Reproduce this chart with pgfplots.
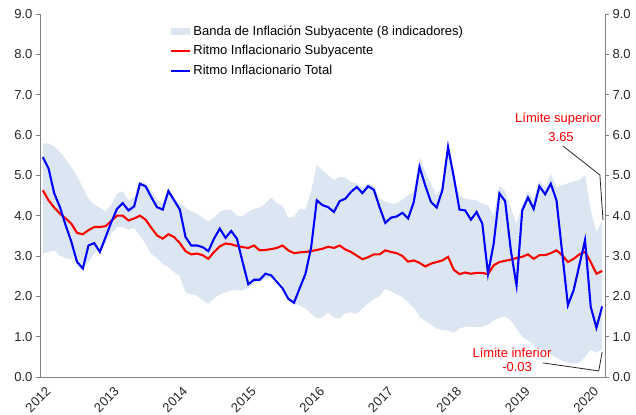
\documentclass[border=0pt]{standalone}
\usepackage{fontspec}
\setmainfont{Liberation Sans}
\usepackage{pgfplots}
\usepackage{pgfplotstable}
\pgfplotsset{compat=1.18}
\usepgfplotslibrary{fillbetween}

\definecolor{bandc}{HTML}{DCE6F2}
\definecolor{axgray}{HTML}{808080}
\newcommand{\chartfont}{\fontsize{13}{15}\selectfont}

% m = month index from Jan 2012; lo/hi = band of 8 core indicators
\pgfplotstableread{
m lo hi core total
0 3.06 5.79 4.63 5.45
1 3.10 5.79 4.38 5.17
2 3.14 5.72 4.20 4.55
3 3.00 5.58 4.05 4.21
4 2.95 5.40 3.93 3.76
5 2.92 5.20 3.80 3.35
6 2.85 4.98 3.57 2.85
7 2.66 4.70 3.54 2.69
8 2.85 4.42 3.64 3.26
9 3.06 4.28 3.72 3.32
10 3.20 4.20 3.72 3.10
11 3.35 4.10 3.74 3.47
12 3.55 4.28 3.87 3.84
13 3.72 4.55 4.00 4.17
14 3.72 4.60 4.00 4.31
15 3.65 4.38 3.88 4.13
16 3.70 4.46 3.93 4.23
17 3.50 4.85 4.00 4.79
18 3.30 4.80 3.90 4.73
19 3.05 4.60 3.70 4.46
20 2.95 4.40 3.51 4.21
21 2.80 4.30 3.43 4.15
22 2.72 4.65 3.54 4.61
23 2.60 4.45 3.47 4.38
24 2.50 4.30 3.32 4.15
25 2.10 4.20 3.12 3.47
26 2.05 4.10 3.04 3.26
27 2.02 4.05 3.06 3.26
28 1.90 3.95 3.02 3.22
29 1.82 3.85 2.93 3.12
30 1.95 3.95 3.10 3.43
31 2.05 4.10 3.24 3.68
32 2.10 4.15 3.31 3.45
33 2.15 4.15 3.29 3.62
34 2.15 4.00 3.25 3.43
35 2.15 3.98 3.22 2.85
36 2.20 4.10 3.20 2.30
37 2.33 4.17 3.26 2.41
38 2.38 4.20 3.14 2.41
39 2.42 4.30 3.15 2.56
40 2.48 4.45 3.17 2.52
41 2.45 4.30 3.20 2.36
42 2.30 4.25 3.26 2.20
43 2.00 3.95 3.14 1.94
44 1.82 3.97 3.07 1.84
45 1.78 4.17 3.09 2.20
46 1.70 4.15 3.10 2.55
47 1.57 4.60 3.12 3.20
48 1.45 5.25 3.15 4.38
49 1.48 5.12 3.18 4.26
50 1.60 5.00 3.23 4.21
51 1.48 4.88 3.20 4.09
52 1.45 4.96 3.26 4.36
53 1.58 4.95 3.16 4.42
54 1.60 4.83 3.10 4.59
55 1.57 4.80 3.01 4.71
56 1.70 4.70 2.92 4.56
57 1.82 4.80 2.97 4.73
58 1.93 4.75 3.04 4.64
59 2.00 4.42 3.04 4.21
60 2.19 4.35 3.14 3.82
61 2.12 4.30 3.10 3.95
62 2.05 4.30 3.07 3.98
63 1.98 4.40 3.00 4.07
64 1.85 4.50 2.86 3.93
65 1.72 4.60 2.89 4.34
66 1.50 5.45 2.83 5.21
67 1.38 5.10 2.74 4.75
68 1.30 4.79 2.81 4.34
69 1.20 4.50 2.85 4.20
70 1.16 4.75 2.89 4.63
71 1.15 5.83 2.98 5.70
72 1.10 5.00 2.66 4.96
73 1.20 4.50 2.55 4.15
74 1.25 4.42 2.59 4.13
75 1.24 4.40 2.56 3.90
76 1.24 4.38 2.58 4.09
77 1.24 4.30 2.58 3.80
78 1.30 4.26 2.55 2.56
79 1.40 4.00 2.77 3.31
80 1.47 4.75 2.85 4.55
81 1.50 4.60 2.88 4.36
82 1.40 4.20 2.91 3.14
83 1.20 3.80 2.95 2.27
84 1.00 4.25 2.98 4.13
85 0.90 4.63 3.04 4.45
86 0.80 4.40 2.93 4.17
87 0.72 4.88 3.02 4.73
88 0.65 4.70 3.02 4.53
89 0.55 5.04 3.07 4.79
90 0.48 4.71 3.14 4.38
91 0.40 4.75 3.02 3.08
92 0.36 4.80 2.85 1.78
93 0.33 4.85 2.93 2.15
94 0.35 4.88 3.04 2.77
95 0.50 5.00 3.10 3.39
96 0.68 4.13 2.85 1.74
97 0.60 3.59 2.56 1.22
98 0.70 3.88 2.63 1.75
}\datatab

\pgfplotsset{
  ratebase/.style={
    scale only axis, width=565pt, height=363pt,
    xmin=0, xmax=99, ymin=0, ymax=9,
    axis line style={axgray, line width=0.9pt},
    ytick={0,1,...,9},
    tick align=outside, major tick length=4pt,
    ytick style={axgray, line width=0.9pt},
    tick label style={font=\chartfont, text=black!85},
    yticklabel style={/pgf/number format/.cd, fixed, fixed zerofill, precision=1, assume math mode=true},
  },
  lineleg/.style={legend image code/.code={\draw[##1] (0pt,0pt) -- (19pt,0pt);}},
  bandleg/.style={legend image code/.code={\fill[bandc] (0pt,-3.5pt) rectangle (19pt,3.5pt);}},
}

\begin{document}
\begin{tikzpicture}[font=\chartfont]
\begin{axis}[ratebase,
  axis x line*=bottom, axis y line*=left,
  xtick={0,12,24,36,48,60,72,84,96},
  xticklabels={2012,2013,2014,2015,2016,2017,2018,2019,2020},
  xtick style={draw=none},
  xticklabel style={rotate=45, anchor=north east, inner sep=1pt, xshift=1pt, yshift=-6pt},
  legend style={at={(axis cs:22.8,8.77)}, anchor=north west, draw=none, fill=none,
    font=\chartfont, row sep=5pt, inner sep=0pt, nodes={inner sep=2pt}},
  legend cell align=left,
]
\addplot[name path=hi, draw=none, forget plot] table[x expr=\thisrow{m}+0.5, y=hi]{\datatab};
\addplot[name path=lo, draw=none, forget plot] table[x expr=\thisrow{m}+0.5, y=lo]{\datatab};
\addplot[fill=bandc, draw=none, bandleg] fill between[of=hi and lo];
\addlegendentry{Banda de Inflación Subyacente (8 indicadores)}
\addplot[red, line width=2.1pt, lineleg] table[x expr=\thisrow{m}+0.5, y=core]{\datatab};
\addlegendentry{Ritmo Inflacionario Subyacente}
\addplot[blue, line width=2.1pt, lineleg] table[x expr=\thisrow{m}+0.5, y=total]{\datatab};
\addlegendentry{Ritmo Inflacionario Total}

\draw[black!85, line width=0.8pt] (axis cs:91.6,5.73) -- (axis cs:98.1,5.01) -- (axis cs:98.65,3.89);
\node[red] at (axis cs:90.8,6.40) {Límite superior};
\node[red] at (axis cs:91.3,5.95) {3.65};
\draw[black!85, line width=0.8pt] (axis cs:88.1,0.35) -- (axis cs:97.9,0.15) -- (axis cs:98.5,0.62);
\node[red] at (axis cs:82.7,0.595) {Límite inferior};
\node[red] at (axis cs:83.6,0.25) {-0.03};
\end{axis}
\begin{axis}[ratebase,
  axis x line=none, axis y line*=right,
]
\end{axis}
\path ([shift={(-40pt,-37pt)}]current axis.south west) rectangle ([shift={(31pt,14pt)}]current axis.north east);
\end{tikzpicture}
\end{document}
